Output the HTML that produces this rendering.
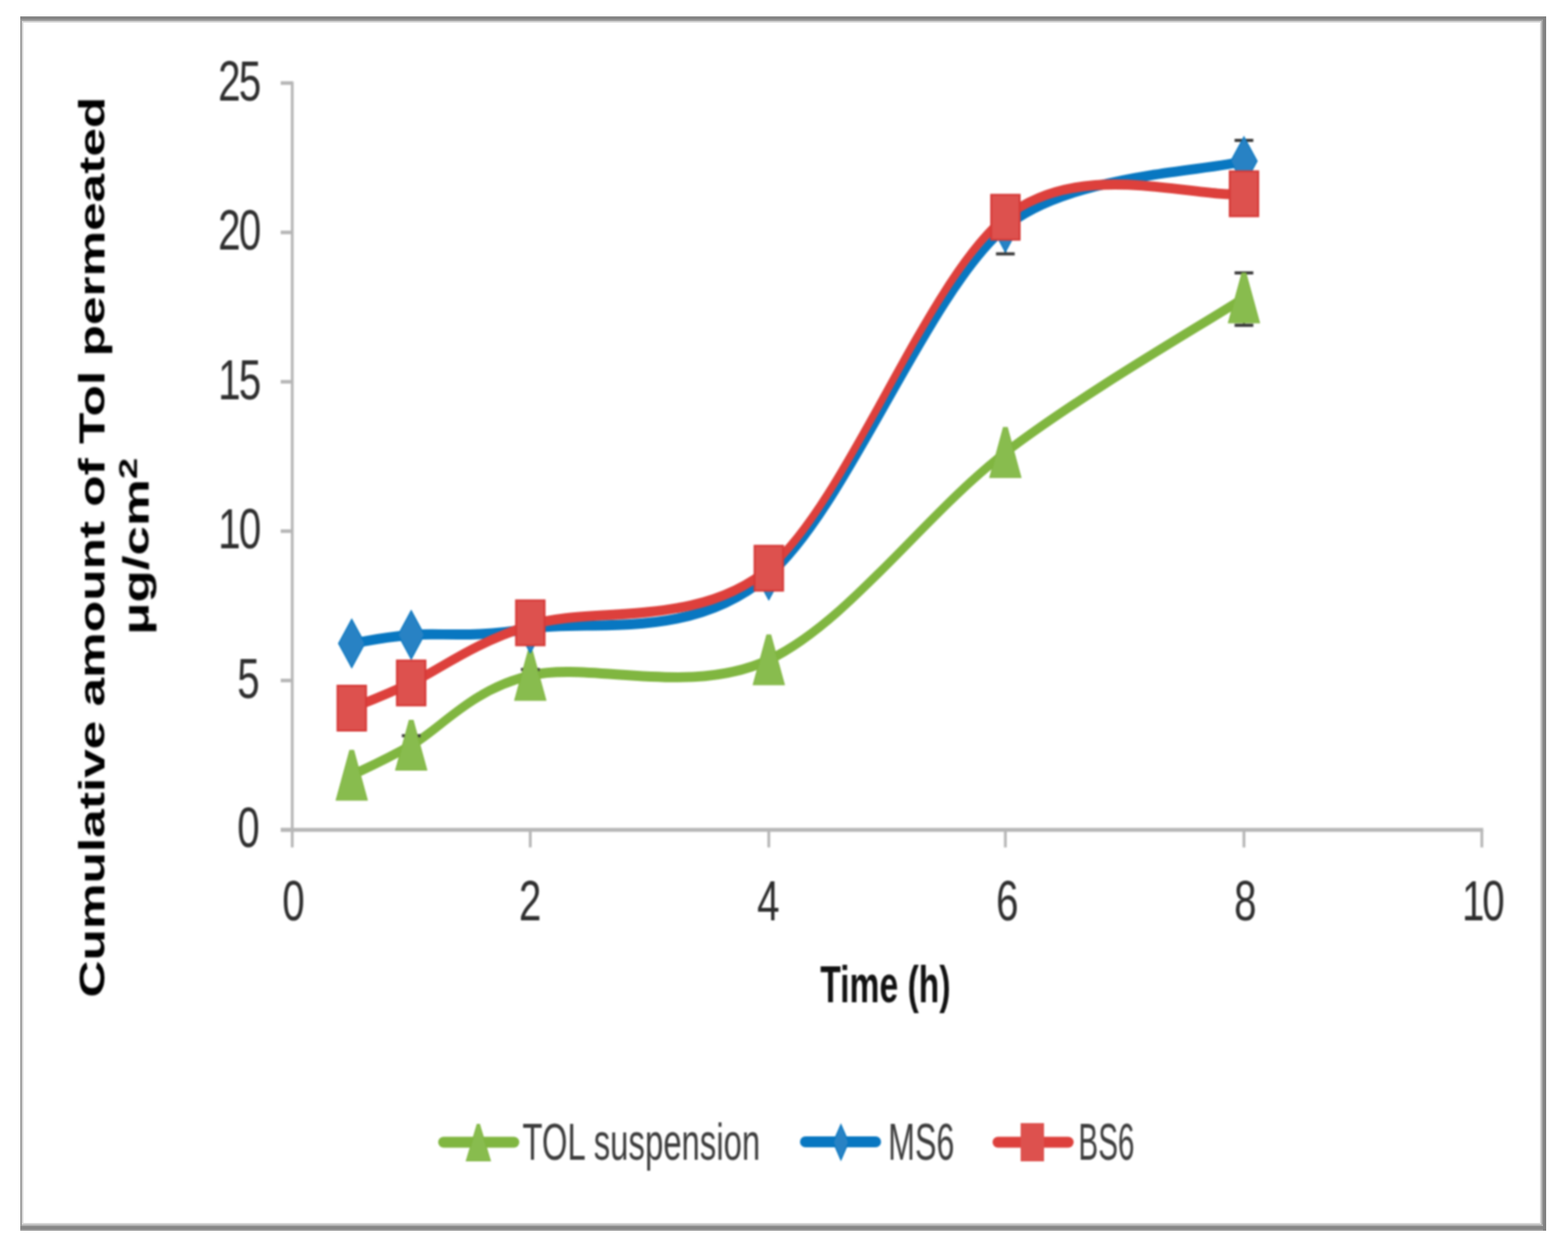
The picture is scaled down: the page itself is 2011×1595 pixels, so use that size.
<!DOCTYPE html>
<html><head><meta charset="utf-8"><title>Cumulative amount of Tol permeated</title>
<style>
html,body{margin:0;padding:0;background:#fff;}
body{width:2011px;height:1595px;overflow:hidden;}
svg{display:block;}
</style></head>
<body>
<svg width="2011" height="1595" viewBox="0 0 2011 1595">
<rect x="0" y="0" width="2011" height="1595" fill="#ffffff"/>
<rect x="26" y="21" width="1957" height="1557" fill="#9a9a9a"/>
<rect x="26" y="21" width="1957" height="4" fill="#858585"/>
<rect x="26" y="1572" width="1957" height="4" fill="#878787"/>
<rect x="1979" y="21" width="4" height="1557" fill="#828282"/>
<rect x="28" y="25" width="1951" height="1547" fill="#d6d6d6"/>
<rect x="28" y="25" width="1949" height="2" fill="#a2a2a2"/>
<rect x="1977" y="25" width="2" height="1547" fill="#a2a2a2"/>
<rect x="28" y="1570" width="1951" height="2" fill="#b0b0b0"/>
<rect x="30" y="29" width="1945" height="1539" fill="#ffffff"/>
<defs><filter id="soft" x="-2%" y="-2%" width="104%" height="104%" color-interpolation-filters="sRGB"><feGaussianBlur stdDeviation="0.9"/></filter></defs>
<g filter="url(#soft)">
<g fill="#b6b6b6">
<rect x="373" y="104.5" width="3.6" height="982"/>
<rect x="360" y="1061.5" width="1542.3" height="5"/>
<rect x="360" y="1061.7" width="15" height="4.6"/>
<rect x="360" y="870.2" width="15" height="4.6"/>
<rect x="360" y="678.7" width="15" height="4.6"/>
<rect x="360" y="487.2" width="15" height="4.6"/>
<rect x="360" y="295.7" width="15" height="4.6"/>
<rect x="360" y="104.2" width="15" height="4.6"/>
<rect x="678.3" y="1064" width="3.6" height="22.5"/>
<rect x="984.2" y="1064" width="3.6" height="22.5"/>
<rect x="1287.6" y="1064" width="3.6" height="22.5"/>
<rect x="1593.6" y="1064" width="3.6" height="22.5"/>
<rect x="1898.7" y="1064" width="3.6" height="22.5"/>
</g>
<text transform="translate(333.0,1086.0) scale(0.720,1)" font-family="Liberation Sans, Arial, sans-serif" fill="#2e2e2e" font-size="72" text-anchor="end">0</text>
<text transform="translate(333.0,894.5) scale(0.720,1)" font-family="Liberation Sans, Arial, sans-serif" fill="#2e2e2e" font-size="72" text-anchor="end">5</text>
<text transform="translate(333.0,703.0) scale(0.720,1)" font-family="Liberation Sans, Arial, sans-serif" fill="#2e2e2e" font-size="72" letter-spacing="-3" text-anchor="end">10</text>
<text transform="translate(333.0,511.5) scale(0.720,1)" font-family="Liberation Sans, Arial, sans-serif" fill="#2e2e2e" font-size="72" letter-spacing="-3" text-anchor="end">15</text>
<text transform="translate(333.0,320.0) scale(0.720,1)" font-family="Liberation Sans, Arial, sans-serif" fill="#2e2e2e" font-size="72" letter-spacing="-3" text-anchor="end">20</text>
<text transform="translate(333.0,128.5) scale(0.720,1)" font-family="Liberation Sans, Arial, sans-serif" fill="#2e2e2e" font-size="72" letter-spacing="-3" text-anchor="end">25</text>
<text transform="translate(376.5,1180.0) scale(0.720,1)" font-family="Liberation Sans, Arial, sans-serif" fill="#2e2e2e" font-size="72" text-anchor="middle">0</text>
<text transform="translate(679.8,1180.0) scale(0.720,1)" font-family="Liberation Sans, Arial, sans-serif" fill="#2e2e2e" font-size="72" text-anchor="middle">2</text>
<text transform="translate(985.4,1180.0) scale(0.720,1)" font-family="Liberation Sans, Arial, sans-serif" fill="#2e2e2e" font-size="72" text-anchor="middle">4</text>
<text transform="translate(1292.0,1180.0) scale(0.720,1)" font-family="Liberation Sans, Arial, sans-serif" fill="#2e2e2e" font-size="72" text-anchor="middle">6</text>
<text transform="translate(1597.2,1180.0) scale(0.720,1)" font-family="Liberation Sans, Arial, sans-serif" fill="#2e2e2e" font-size="72" text-anchor="middle">8</text>
<text transform="translate(1901.0,1180.0) scale(0.720,1)" font-family="Liberation Sans, Arial, sans-serif" fill="#2e2e2e" font-size="72" letter-spacing="-4" text-anchor="middle">10</text>
<text x="1052" y="1284.5" font-family="Liberation Sans, Arial, sans-serif" font-weight="bold" font-size="66" fill="#111" textLength="167" lengthAdjust="spacingAndGlyphs">Time (h)</text>
<g transform="translate(134,701.5) rotate(-90)"><text x="0" y="0" font-family="Liberation Sans, Arial, sans-serif" font-weight="bold" font-size="47" fill="#000" text-anchor="middle" textLength="1155" lengthAdjust="spacingAndGlyphs">Cumulative amount of Tol permeated</text></g>
<g transform="translate(190.6,700.5) rotate(-90)"><text x="0" y="0" font-family="Liberation Sans, Arial, sans-serif" font-weight="bold" font-size="47" fill="#000" text-anchor="middle" textLength="227" lengthAdjust="spacingAndGlyphs">&#956;g/cm<tspan font-size="34" dy="-15">2</tspan></text></g>
<g transform="translate(0,1064.0) scale(1,1.550)" fill="none" stroke-width="8.30" stroke-linecap="round" stroke-linejoin="round">
<path d="M451.10,-45.16 C463.82,-49.30 489.23,-56.24 527.40,-70.00 C565.57,-83.76 603.67,-115.97 680.10,-127.74 C756.53,-139.52 884.45,-109.91 986.00,-140.65 C1087.55,-171.38 1187.83,-262.24 1289.40,-312.13 C1390.97,-362.02 1544.40,-418.69 1595.40,-440.00" stroke="#80b640"/>
<path d="M451.10,-154.19 C463.82,-155.38 489.23,-159.25 527.40,-161.29 C565.57,-163.33 603.67,-158.28 680.10,-166.45 C756.53,-174.62 884.45,-155.05 986.00,-210.32 C1087.55,-265.59 1187.83,-440.91 1289.40,-498.06 C1368.62,-542.64 1546.44,-544.40 1595.40,-553.23" stroke="#0877c1"/>
<path d="M451.10,-100.65 C463.82,-104.13 489.23,-110.10 527.40,-121.55 C565.57,-133.00 603.67,-153.54 680.10,-169.35 C758.06,-185.49 894.61,-165.84 986.00,-216.45 C1087.55,-272.69 1187.83,-455.15 1289.40,-506.77 C1386.90,-556.33 1528.08,-521.92 1595.40,-526.19" stroke="#dd403c"/>
</g>
<g stroke="#3a3a3a" stroke-width="4"><line x1="527.4" y1="943.3" x2="527.4" y2="967.7" stroke-width="2.5"/><line x1="515.4" y1="943.3" x2="539.4" y2="943.3"/><line x1="515.4" y1="967.7" x2="539.4" y2="967.7"/></g>
<g stroke="#3a3a3a" stroke-width="4"><line x1="680.1" y1="858.4" x2="680.1" y2="873.6" stroke-width="2.5"/><line x1="668.1" y1="858.4" x2="692.1" y2="858.4"/><line x1="668.1" y1="873.6" x2="692.1" y2="873.6"/></g>
<g stroke="#3a3a3a" stroke-width="4"><line x1="1595.4" y1="349.9" x2="1595.4" y2="417.1" stroke-width="2.5"/><line x1="1583.4" y1="349.9" x2="1607.4" y2="349.9"/><line x1="1583.4" y1="417.1" x2="1607.4" y2="417.1"/></g>
<g stroke="#3a3a3a" stroke-width="4"><line x1="1595.4" y1="180.0" x2="1595.4" y2="233.0" stroke-width="2.5"/><line x1="1583.4" y1="180.0" x2="1607.4" y2="180.0"/><line x1="1583.4" y1="233.0" x2="1607.4" y2="233.0"/></g>
<g stroke="#3a3a3a" stroke-width="4"><line x1="1289.4" y1="258.5" x2="1289.4" y2="325.5" stroke-width="2.5"/><line x1="1277.4" y1="258.5" x2="1301.4" y2="258.5"/><line x1="1277.4" y1="325.5" x2="1301.4" y2="325.5"/></g>
<g stroke="#3a3a3a" stroke-width="4"><line x1="986.0" y1="732.0" x2="986.0" y2="744.0" stroke-width="2.5"/><line x1="974.0" y1="732.0" x2="998.0" y2="732.0"/><line x1="974.0" y1="744.0" x2="998.0" y2="744.0"/></g>
<path d="M448.6,962.0 L453.6,962.0 L471.1,1026.0 L431.1,1026.0 Z" fill="#88bc4e" stroke="#80b640" stroke-width="1.2"/>
<path d="M524.9,923.5 L529.9,923.5 L547.4,987.5 L507.4,987.5 Z" fill="#88bc4e" stroke="#80b640" stroke-width="1.2"/>
<path d="M677.6,834.0 L682.6,834.0 L700.1,898.0 L660.1,898.0 Z" fill="#88bc4e" stroke="#80b640" stroke-width="1.2"/>
<path d="M983.5,814.0 L988.5,814.0 L1006.0,878.0 L966.0,878.0 Z" fill="#88bc4e" stroke="#80b640" stroke-width="1.2"/>
<path d="M1286.9,548.2 L1291.9,548.2 L1309.4,612.2 L1269.4,612.2 Z" fill="#88bc4e" stroke="#80b640" stroke-width="1.2"/>
<path d="M1592.9,350.0 L1597.9,350.0 L1615.4,414.0 L1575.4,414.0 Z" fill="#88bc4e" stroke="#80b640" stroke-width="1.2"/>
<path d="M451.1,794.0 L467.9,825.0 L451.1,856.0 L434.3,825.0 Z" fill="#2882c4" stroke="#0877c1" stroke-width="1.5"/>
<path d="M527.4,783.0 L544.2,814.0 L527.4,845.0 L510.6,814.0 Z" fill="#2882c4" stroke="#0877c1" stroke-width="1.5"/>
<path d="M680.1,775.0 L696.9,806.0 L680.1,837.0 L663.3,806.0 Z" fill="#2882c4" stroke="#0877c1" stroke-width="1.5"/>
<path d="M986.0,707.0 L1002.8,738.0 L986.0,769.0 L969.2,738.0 Z" fill="#2882c4" stroke="#0877c1" stroke-width="1.5"/>
<path d="M1289.4,261.0 L1306.2,292.0 L1289.4,323.0 L1272.6,292.0 Z" fill="#2882c4" stroke="#0877c1" stroke-width="1.5"/>
<path d="M1595.4,175.5 L1612.2,206.5 L1595.4,237.5 L1578.6,206.5 Z" fill="#2882c4" stroke="#0877c1" stroke-width="1.5"/>
<rect x="432.9" y="879.2" width="36.5" height="57.5" fill="#dd514e" stroke="#d63a38" stroke-width="2.5"/>
<rect x="509.1" y="846.9" width="36.5" height="57.5" fill="#dd514e" stroke="#d63a38" stroke-width="2.5"/>
<rect x="661.9" y="769.8" width="36.5" height="57.5" fill="#dd514e" stroke="#d63a38" stroke-width="2.5"/>
<rect x="967.8" y="699.8" width="36.5" height="57.5" fill="#dd514e" stroke="#d63a38" stroke-width="2.5"/>
<rect x="1271.2" y="249.8" width="36.5" height="57.5" fill="#dd514e" stroke="#d63a38" stroke-width="2.5"/>
<rect x="1577.2" y="219.7" width="36.5" height="57.5" fill="#dd514e" stroke="#d63a38" stroke-width="2.5"/>
<line x1="569" y1="1464.5" x2="659" y2="1464.5" stroke="#80b640" stroke-width="14" stroke-linecap="round"/>
<path d="M612.0,1441.5 L615.0,1441.5 L629.0,1488.5 L598.0,1488.5 Z" fill="#88bc4e" stroke="#80b640" stroke-width="1.2"/>
<text x="670" y="1486.5" font-family="Liberation Sans, Arial, sans-serif" fill="#3c3c3c" font-size="67" textLength="305" lengthAdjust="spacingAndGlyphs">TOL suspension</text>
<line x1="1033" y1="1464" x2="1123" y2="1464" stroke="#0877c1" stroke-width="14" stroke-linecap="round"/>
<path d="M1078.5,1442.0 L1088.3,1464.5 L1078.5,1487.0 L1068.7,1464.5 Z" fill="#2882c4" stroke="#0877c1" stroke-width="1.5"/>
<text x="1139" y="1486.5" font-family="Liberation Sans, Arial, sans-serif" fill="#3c3c3c" font-size="67" textLength="85" lengthAdjust="spacingAndGlyphs">MS6</text>
<line x1="1280" y1="1464.5" x2="1370" y2="1464.5" stroke="#dd403c" stroke-width="14" stroke-linecap="round"/>
<rect x="1309" y="1440" width="30" height="49" fill="#dd514e"/>
<text x="1383" y="1486.5" font-family="Liberation Sans, Arial, sans-serif" fill="#3c3c3c" font-size="67" textLength="72" lengthAdjust="spacingAndGlyphs">BS6</text>
</g>
</svg>
</body></html>
